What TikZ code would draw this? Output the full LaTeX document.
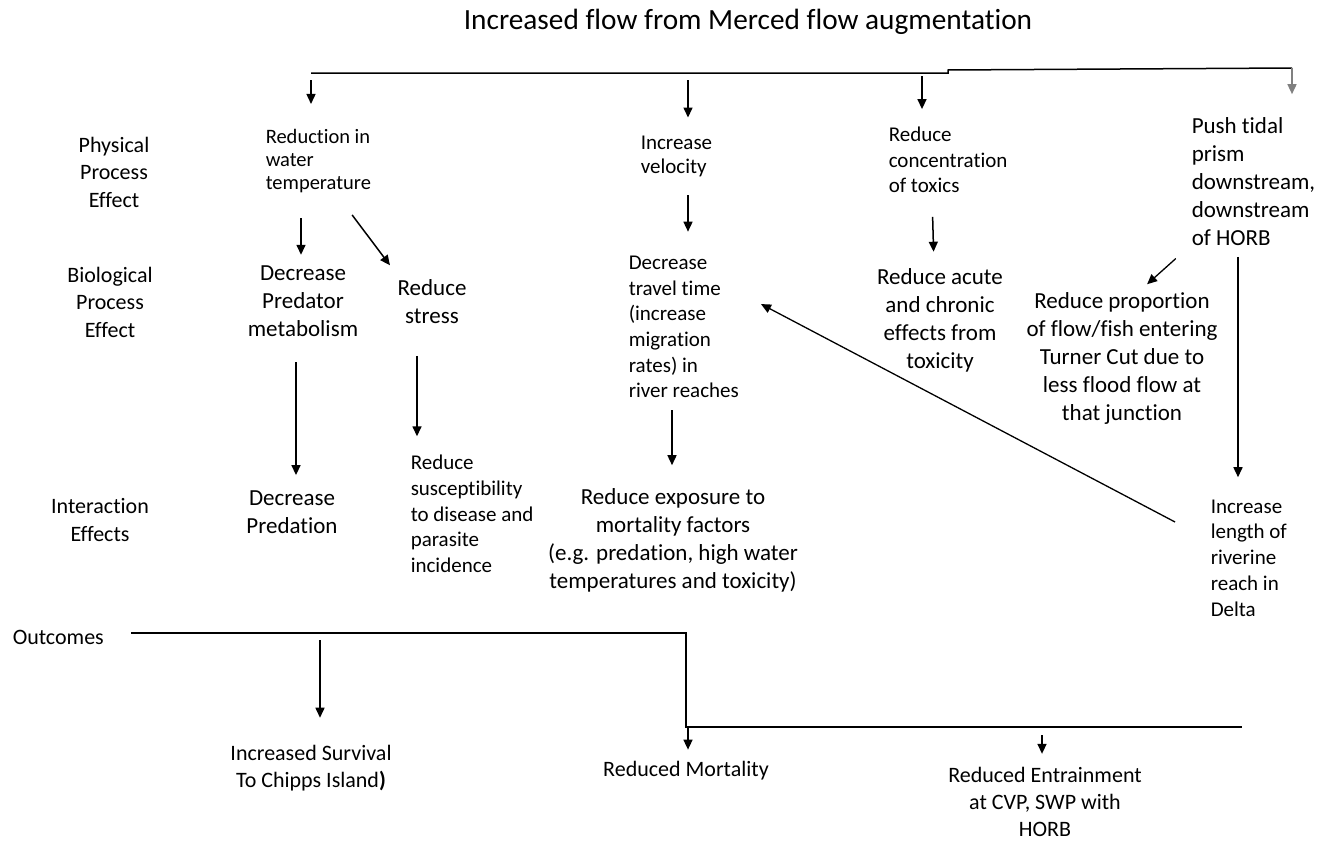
\documentclass[tikz,border=0pt]{standalone}
\usepackage{fontspec}
\setmainfont{Carlito}[Ligatures=NoCommon]
\usetikzlibrary{arrows.meta}

\begin{document}
\begin{tikzpicture}[x=1pt,y=-1pt,>={Triangle[length=10pt,width=9pt]},line width=1.5pt,
                    rowlab/.style={inner sep=0pt,align=center,font=\fontsize{22}{27.5}\selectfont},
                    smalltxt/.style={inner sep=0pt,align=left,anchor=west,font=\fontsize{21}{25.7}\selectfont},
                    bigtxt/.style={inner sep=0pt,align=center,font=\fontsize{23}{28}\selectfont},
                    outtxt/.style={inner sep=0pt,align=center,font=\fontsize{22}{26.8}\selectfont}]
  \useasboundingbox (0,0) rectangle (1335,843);

  \node[inner sep=0pt,font=\fontsize{29.3}{34}\selectfont] (title) at (748,22) {Increased flow from Merced flow augmentation};

  % row labels
  \node[rowlab] (phys) at (114,172) {Physical\\Process\\Effect};
  \node[rowlab] (bio) at (110,302) {Biological\\Process\\Effect};
  \node[rowlab] (inter) at (100,520) {Interaction\\Effects};
  \node[rowlab,anchor=west] (outc) at (12,637) {Outcomes};

  % temperature branch
  \node[smalltxt,font=\fontsize{20.5}{23}\selectfont] (rwt) at (265,161) {Reduction in\\water\\temperature};
  \node[bigtxt] (dpm) at (303,301) {Decrease\\Predator\\metabolism};
  \node[bigtxt] (rst) at (432,302) {Reduce\\stress};
  \node[bigtxt] (dpr) at (292,512) {Decrease\\Predation};
  \node[smalltxt] (rsus) at (410,514) {Reduce\\susceptibility\\to disease and\\parasite\\incidence};

  % velocity branch
  \node[smalltxt,font=\fontsize{21}{24}\selectfont] (ivel) at (640,156) {Increase\\velocity};
  \node[smalltxt] (dtt) at (628,327) {Decrease\\travel time\\(increase\\migration\\rates) in\\river reaches};
  \node[bigtxt] (rexp) at (673,540) {Reduce exposure to\\mortality factors\\(e.g. predation, high water\\temperatures and toxicity)};

  % toxics branch
  \node[smalltxt,font=\fontsize{21}{25.5}\selectfont] (rcon) at (888,160) {Reduce\\concentration\\of toxics};
  \node[bigtxt] (racu) at (940,320) {Reduce acute\\and chronic\\effects from\\toxicity};

  % tidal branch
  \node[bigtxt,align=left,anchor=west] (ptp) at (1191,182) {Push tidal\\prism\\downstream,\\downstream\\of HORB};
  \node[bigtxt] (rprop) at (1122,358) {Reduce proportion\\of flow/fish entering\\Turner Cut due to\\less flood flow at\\that junction};
  \node[smalltxt] (ilen) at (1210,558) {Increase\\length of\\riverine\\reach in\\Delta};

  % outcomes
  \node[outtxt] (isurv) at (311,768) {Increased Survival\\To Chipps Island\textbf{)}};
  \node[outtxt] (rmort) at (686,771) {Reduced Mortality};
  \node[outtxt] (rent) at (1045,802) {Reduced Entrainment\\at CVP, SWP with\\HORB};

  % top bar
  \coordinate (b1) at (311,73);
  \coordinate (t2) at (688,73);
  \coordinate (t3) at (922,73);
  \coordinate (b2) at (948,73);
  \coordinate (b3) at (948,70);
  \coordinate (b4) at (1292,68);
  \draw (b1) -- (b2) -- (b3) -- (b4);

  \draw[->,shorten <=7pt,shorten >=24.5pt] (b1) -- (b1 |- rwt.north);
  \draw[->,shorten <=7pt,shorten >=17.3pt] (t2) -- (t2 |- ivel.north);
  \draw[->,shorten <=3pt,shorten >=17.3pt] (t3) -- (t3 |- rcon.north);
  \draw[->,gray,shorten >=23pt] (b4) -- (b4 |- ptp.north);

  % physical -> biological -> interaction
  \draw[->,shorten <=24.5pt,shorten >=10pt] ([xshift=36pt]rwt.south west) -- ([xshift=-2pt]dpm.north);
  \draw[->,shorten <=26.8pt,shorten >=17.4pt] ([xshift=71pt]rwt.south west) -- ([xshift=-31.6pt]rst.north);
  \draw[->,shorten <=25pt,shorten >=14.7pt] ([xshift=-7pt]dpm.south) -- ([xshift=4pt]dpr.north);
  \draw[->,shorten <=31pt,shorten >=18.2pt] ([xshift=-15pt]rst.south) -- ([xshift=7pt]rsus.north west);
  \draw[->,shorten <=18pt,shorten >=23.5pt] ([xshift=48pt]ivel.south west) -- ([xshift=60pt]dtt.north west);
  \draw[->,shorten <=11.5pt,shorten >=22.2pt] ([xshift=44pt]dtt.south west) -- ([xshift=-1pt]rexp.north);
  \draw[->,shorten <=23.2pt,shorten >=15.7pt] ([xshift=44pt]rcon.south west) -- ([xshift=-6pt]racu.north);
  \draw[->,line width=1.3pt,shorten <=17.6pt,shorten >=10.6pt] ([xshift=-2.1pt]ptp.south west) -- ([xshift=17.2pt]rprop.north);
  \draw[->,shorten <=10pt,shorten >=21.8pt] ([xshift=47pt]ptp.south west) -- ([xshift=28pt]ilen.north west);
  \draw[->,line width=1.3pt,shorten <=39.5pt,shorten >=24.2pt] ([yshift=17.6pt]ilen.west) -- ([yshift=34.2pt]dtt.east);

  % outcome bar
  \coordinate (o1) at (131,633);
  \coordinate (s1) at (320,633);
  \coordinate (o2) at (686,633);
  \coordinate (o3) at (686,727);
  \coordinate (s3) at (1042,727);
  \coordinate (o4) at (1242,727);
  \draw (o1) -- (o2) -- (o3) -- (o4);

  \draw[->,shorten <=7pt,shorten >=26.7pt] (s1) -- (s1 |- isurv.north);
  \draw[->,shorten >=11.2pt] ([xshift=2pt]o3) -- ([xshift=2pt]rmort.north);
  \draw[->,shorten <=8pt,shorten >=12.9pt] (s3) -- (s3 |- rent.north);
\end{tikzpicture}
\end{document}
